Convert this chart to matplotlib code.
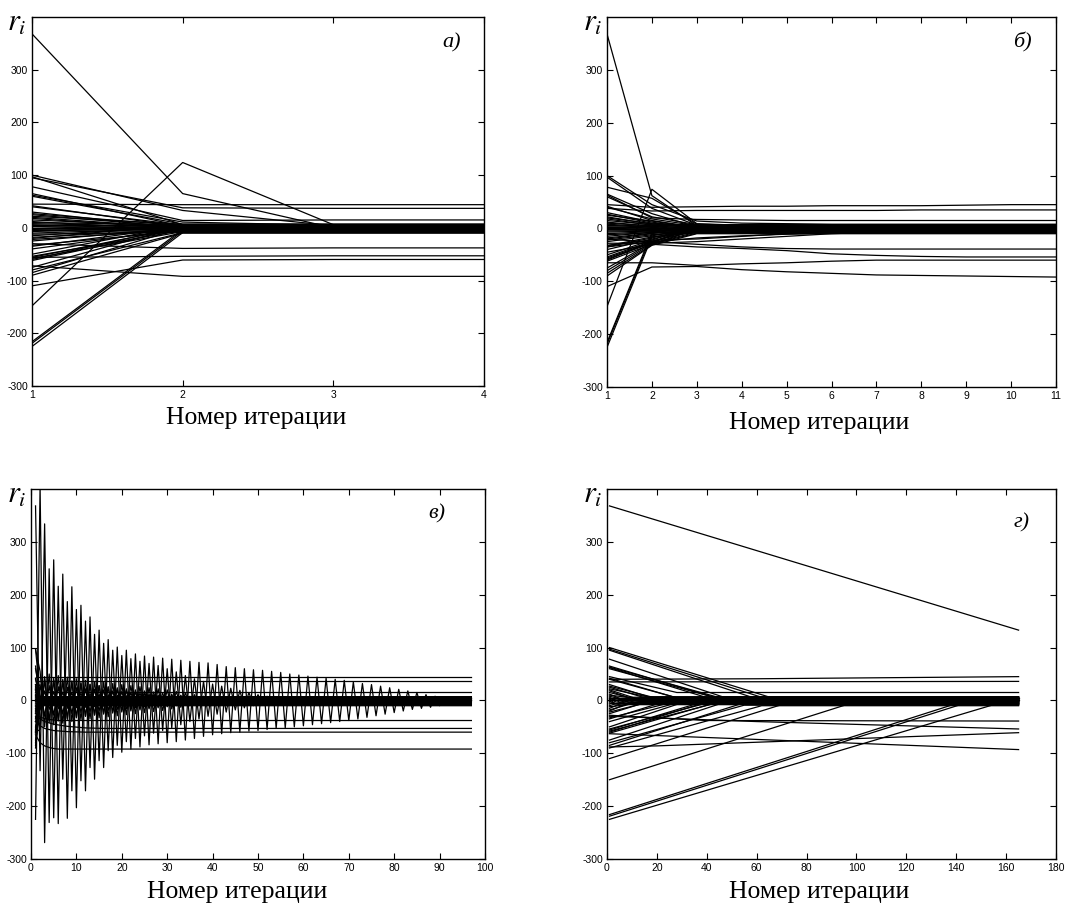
import numpy as np
import matplotlib
matplotlib.use('Agg')
import matplotlib.pyplot as plt

plt.rcParams['font.family'] = ['Liberation Sans', 'DejaVu Sans']
plt.rcParams['mathtext.fontset'] = 'stix'
plt.rcParams['axes.unicode_minus'] = False

# --- common group of residuals that end inside the dense band near zero ---
bulk_start = [97, 65, 60, 42, 40, 30, 27, 25, 22, 20,
              18, 15, 12, 10, 8, 6, 5, 3, 2, 0,
              -2, -3, -5, -7, -10, -12, -15, -18, -20, -22,
              -25, -33, -35, -40, -50, -54, -56, -58, -60, -62,
              -75, -80, -85, -90]
bulk_final = [6, 3, 7, 2, 5, -1, 4, 1, 7, 0,
              -2, 3, -4, 6, 2, -3, 5, -6, 1, 0,
              -5, 4, -7, 2, -1, -8, 3, -3, 6, -4,
              0, -6, 2, -2, 5, -5, 1, -7, 3, -1,
              4, -9, 0, -10]
# panel б: value at iteration 2
b_step2 = [38, 28, 22, 15, 18, 12, 10, 14, 8, 9,
           6, 7, 4, 5, 3, 2, 4, 1, 0, -1,
           -2, -3, -4, -5, -6, -8, -7, -9, -10, -12,
           -14, -16, -18, -20, -22, -24, -26, -28, -25, -30,
           -27, -29, -31, -32]
# panel г: iteration where each residual reaches its final value
g_knee = [62, 45, 42, 30, 28, 22, 20, 18, 16, 14,
          13, 11, 9, 8, 6, 5, 4, 3, 2, 2,
          3, 3, 4, 5, 7, 8, 10, 12, 14, 16,
          18, 24, 26, 30, 36, 40, 41, 42, 44, 46,
          52, 55, 58, 62]

# --- panel а) ---
a_iters = [1, 2, 3, 4]
a_lines = [
    [368, 65, 0, 0],
    [-148, 124, 6, 6],
    [-216, -3, -3, -3],
    [-219, -6, -6, -6],
    [-225, -9, -9, -9],
    [-72, -92, -92, -92],
    [-110, -61, -60, -60],
    [-56, -54, -53, -53],
    [-30, -39, -38, -38],
    [45, 44, 44, 44],
    [95, 38, 37, 37],
    [100, 33, 4, 4],
    [78, 14, 15, 15],
    [62, 11, 5, 5],
]

# --- panel б) ---
b_iters = [1, 2, 3, 4, 5, 6, 7, 8, 9, 10, 11]
b_lines = [
    [368, 62, 5, 4, 3, 3, 3, 3, 3, 3, 3],
    [-148, 74, 9, 6, 5, 5, 5, 5, 5, 5, 5],
    [-216, -8, -4, -3, -3, -3, -3, -3, -3, -3, -3],
    [-219, -12, -6, -5, -5, -5, -5, -5, -5, -5, -5],
    [-225, -16, -8, -7, -7, -7, -7, -7, -7, -7, -7],
    [-110, -73, -72, -78, -82, -85, -88, -89, -90, -91, -92],
    [-65, -65, -70, -67, -65, -62, -60, -60, -60, -60, -60],
    [-45, -30, -35, -38, -42, -48, -51, -53, -54, -54, -54],
    [-35, -25, -30, -35, -38, -39, -39, -39, -39, -39, -39],
    [45, 40, 41, 42, 42, 43, 43, 43, 44, 45, 45],
    [38, 33, 34, 34, 34, 34, 34, 35, 35, 35, 35],
    [63, 20, 17, 16, 15, 15, 15, 15, 15, 15, 15],
    [-28, -28, -25, -20, -15, -10, -7, -6, -6, -6, -6],
    [-32, -22, -20, -15, -10, -8, -7, -7, -7, -7, -7],
    [-20, -26, -18, -14, -11, -9, -8, -8, -8, -8, -8],
    [100, 45, 14, 10, 9, 8, 8, 8, 8, 8, 8],
    [78, 57, 8, 6, 5, 5, 5, 5, 5, 5, 5],
]

# --- panel в) oscillating residuals: odd-iteration and even-iteration values ---
c_l1_odd = [368, 334, 266, 239, 215, 180, 158, 133, 115, 101,
            95, 88, 84, 82, 80, 78, 76, 74, 72, 71,
            68, 64, 62, 60, 58, 57, 55, 53, 50, 48,
            46, 44, 42, 40, 38, 35, 32, 30, 27, 24,
            21, 18, 15, 11, 8, 6, 3, 1, 0]
c_l1_even = [-133, -231, -233, -223, -203, -171, -149, -127, -108, -98,
             -92, -88, -84, -82, -80, -78, -75, -72, -68, -65,
             -63, -61, -60, -58, -57, -55, -53, -52, -50, -48,
             -46, -44, -42, -40, -38, -35, -32, -29, -26, -23,
             -20, -17, -15, -13, -10, -8, -5, -3]
c_l2_odd = [-225, -269, -222, -149, -171, -152, -127, -114, -95, -85,
            -78, -72, -67, -62, -57, -52, -46, -40, -35, -30,
            -26, -22, -18, -14, -10, -7, -4, -2, 0]
c_l2_even = [405, 249, 216, 187, 172, 150, 125, 108, 95, 85,
             79, 74, 70, 66, 60, 54, 47, 41, 36, 31,
             27, 23, 19, 15, 11, 8, 5, 3, 1]
c_m1_odd = [97, -50, -46, -43, -40, -37, -35, -33, -31, -29, -27,
            -25, -23, -21, -19, -16, -13, -10, -8, -6, -4, -2]
c_m1_even = [55, 50, 47, 44, 41, 38, 36, 34, 32, 30, 28,
             26, 24, 22, 20, 17, 14, 11, 8, 6, 4, 2]
c_m2_odd = [-60, 40, 38, 36, 34, 32, 30, 28, 26, 24, 22, 20, 18,
            16, 14, 12, 10, 8, 6, 5, 4, 3, 2, 1, 0, 0]
c_m2_even = [-55, -38, -36, -34, -32, -30, -28, -26, -24, -22, -20, -18, -16,
             -14, -12, -10, -8, -6, -5, -4, -3, -2, -1, 0, 0]
c_m3_odd = [20, -30, -28, -26, -25, -23, -22, -20, -19, -17, -16,
            -14, -12, -10, -8, -7, -5, -4, -3, -2, -1]
c_m3_even = [30, 28, 26, 25, 24, 22, 21, 20, 18, 17,
             15, 14, 12, 10, 8, 6, 5, 4, 3, 2]
c_m4_odd = [-40, 45, 42, 40, 37, 34, 31, 28, 25, 22, 19, 16, 13, 10, 7, 4, 2, 0]
c_m4_even = [-45, -42, -39, -36, -33, -30, -27, -24, -21, -18, -15, -12, -9,
             -6, -4, -2, 0]
c_m5_odd = [10, 18, 17, 16, 15, 14, 13, 12, 11, 10, 9, 8, 7, 6, 5, 4, 3, 2, 1, 0]
c_m5_even = [-18, -17, -16, -15, -14, -13, -12, -11, -10, -9, -8, -7, -6, -5,
             -4, -3, -2, -1, 0]
c_last = 97
c_smooth = [
    ([1, 2, 3, 4, 5, 6, 97], [-65, -80, -86, -89, -91, -92, -92]),
    ([1, 2, 3, 5, 8, 12, 97], [-40, -48, -53, -57, -59, -60, -60]),
    ([1, 3, 5, 8, 12, 16, 97], [-30, -40, -45, -49, -52, -53, -53]),
    ([1, 2, 4, 6, 97], [-25, -32, -36, -38, -38]),
    ([1, 97], [44, 44]),
    ([1, 97], [37, 37]),
    ([1, 3, 97], [30, 15, 15]),
]

# --- panel г) ---
g_last = 165
g_lines = [
    ([1, 165], [368, 133]),
    ([1, 100, 165], [-150, -2, -2]),
    ([1, 140, 165], [-216, -6, -6]),
    ([1, 145, 165], [-219, -3, -3]),
    ([1, 155, 165], [-225, -8, -8]),
    ([1, 72, 165], [-110, -5, -5]),
    ([1, 165], [-63, -93]),
    ([1, 20, 165], [-88, -86, -61]),
    ([1, 60, 165], [-30, -40, -54]),
    ([1, 40, 165], [-28, -38, -39]),
    ([1, 60, 165], [40, 41, 45]),
    ([1, 165], [35, 36]),
    ([1, 28, 165], [45, 15, 15]),
    ([1, 66, 165], [100, 5, 5]),
    ([1, 60, 165], [95, 3, 3]),
    ([1, 52, 165], [78, -2, -2]),
    ([1, 46, 165], [63, 4, 4]),
    ([1, 43, 165], [62, 1, 1]),
]

W, H = 1085, 906
fig = plt.figure(figsize=(W / 100, H / 100), dpi=100)


def px_axes(x0, y0, x1, y1):
    return fig.add_axes([x0 / W, 1 - y1 / H, (x1 - x0) / W, (y1 - y0) / H])


LW = 0.9


def interleave(odd_vals, even_vals):
    n = len(odd_vals) + len(even_vals)
    vals = []
    for k in range(n):
        vals.append(odd_vals[k // 2] if k % 2 == 0 else even_vals[k // 2])
    return list(range(1, n + 1)), vals


def style(ax, xlim, xticks):
    ax.set_xlim(*xlim)
    ax.set_ylim(-300, 400)
    ax.set_xticks(xticks)
    ax.set_yticks(range(-300, 301, 100))
    ax.tick_params(direction='in', top=True, right=True, length=4, width=0.8,
                   labelsize=7.5, pad=3)
    for s in ax.spines.values():
        s.set_linewidth(1.0)


def labels(xl, pl, rl, letter):
    fig.text(xl[0] / W, 1 - xl[1] / H, 'Номер итерации', ha='center', va='center',
             fontsize=18.5, family='Liberation Serif')
    fig.text(pl[0] / W, 1 - pl[1] / H, letter, ha='center', va='center',
             fontsize=16, family='Liberation Serif', style='italic')
    fig.text(rl[0] / W, 1 - rl[1] / H, '$r_i$', ha='center', va='center', fontsize=22)


# а)
ax = px_axes(32, 17, 484, 386)
for s, f in zip(bulk_start, bulk_final):
    ax.plot(a_iters, [s, f, f, f], color='black', lw=LW)
for v in a_lines:
    ax.plot(a_iters, v, color='black', lw=LW)
style(ax, (1, 4), [1, 2, 3, 4])
labels((256, 418), (452, 43), (17, 23), 'а)')

# б)
ax = px_axes(607, 17, 1056, 387)
for s, m, f in zip(bulk_start, b_step2, bulk_final):
    ax.plot([1, 2, 3, 11], [s, m, f, f], color='black', lw=LW)
for v in b_lines:
    ax.plot(b_iters, v, color='black', lw=LW)
style(ax, (1, 11), b_iters)
labels((819, 423), (1022, 42), (593, 23), 'б)')

# в)
ax = px_axes(31, 489, 485, 859)
for s, f in zip(bulk_start, bulk_final):
    ax.plot([1, 2, c_last], [s, f, f], color='black', lw=LW)
for xs, ys in c_smooth:
    ax.plot(xs, ys, color='black', lw=LW)
for odd_v, even_v in [(c_l1_odd, c_l1_even), (c_l2_odd, c_l2_even),
                      (c_m1_odd, c_m1_even), (c_m2_odd, c_m2_even),
                      (c_m3_odd, c_m3_even), (c_m4_odd, c_m4_even),
                      (c_m5_odd, c_m5_even)]:
    xs, ys = interleave(odd_v, even_v)
    if xs[-1] < c_last:
        xs = xs + [c_last]
        ys = ys + [ys[-1]]
    ax.plot(xs, ys, color='black', lw=LW)
style(ax, (0, 100), range(0, 101, 10))
labels((237, 892), (437, 514), (17, 495), 'в)')

# г)
ax = px_axes(607, 489, 1056, 859)
for s, k, f in zip(bulk_start, g_knee, bulk_final):
    ax.plot([1, k, g_last], [s, f, f], color='black', lw=LW)
for xs, ys in g_lines:
    ax.plot(xs, ys, color='black', lw=LW)
style(ax, (0, 180), range(0, 181, 20))
labels((819, 892), (1022, 523), (593, 495), 'г)')

fig.savefig('out.png', dpi=100)
